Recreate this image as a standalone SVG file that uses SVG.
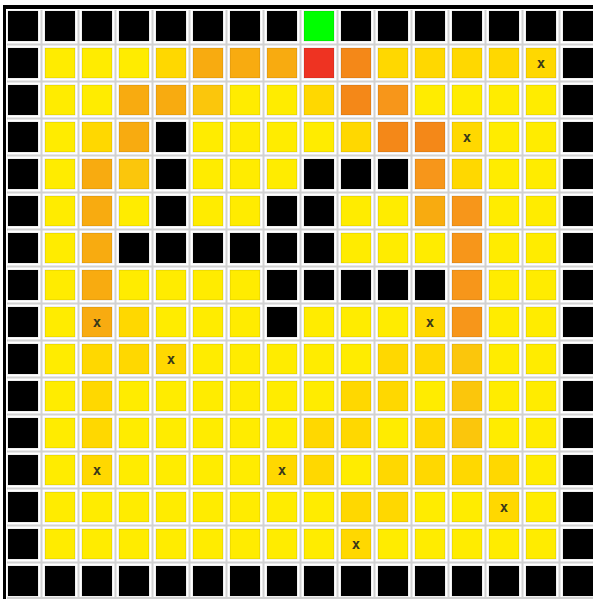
<svg xmlns="http://www.w3.org/2000/svg" width="593" height="599" viewBox="0 0 593 599">
<style>
rect{stroke:#000;stroke-opacity:.12;stroke-width:1;width:30px;height:30px}
.k{fill:#000}.y{fill:#FFEC00}.g{fill:#FFD800}.a{fill:#FBC60C}.o{fill:#F8AB10}.d{fill:#F48818}.p{fill:#F7961A}.r{fill:#EE3322}.l{fill:#00FF00}
.grid{stroke:#d2d2d2;stroke-width:2;fill:none}
.bar{fill:#000;stroke:none}
text{font-family:"DejaVu Sans Mono",monospace;font-size:14px;font-weight:bold;fill:#3a3a1a;text-anchor:middle;dominant-baseline:central}
</style>
<rect width="593" height="599" style="fill:#fff;stroke:none;width:593px;height:599px"/>
<g id="gridlines">
<path class="grid" d="M41.5 10V599M78.5 10V599M115.5 10V599M152.5 10V599M189.5 10V599M226.5 10V599M263.5 10V599M300.5 10V599M337.5 10V599M374.5 10V599M411.5 10V599M448.5 10V599M485.5 10V599M522.5 10V599M559.5 10V599M7 44.5H593M7 81.5H593M7 118.5H593M7 155.5H593M7 192.5H593M7 229.5H593M7 266.5H593M7 303.5H593M7 340.5H593M7 377.5H593M7 414.5H593M7 451.5H593M7 488.5H593M7 525.5H593M7 562.5H593M7 598H593"/>
</g>
<rect class="bar" x="3" y="5" style="width:590px;height:4px"/>
<rect class="bar" x="3" y="5" style="width:3px;height:594px"/>
<g id="row0" transform="translate(0,11)">
<rect class="k" x="8" y="0"/><rect class="k" x="45" y="0"/><rect class="k" x="82" y="0"/><rect class="k" x="119" y="0"/><rect class="k" x="156" y="0"/><rect class="k" x="193" y="0"/><rect class="k" x="230" y="0"/><rect class="k" x="267" y="0"/><rect class="l" x="304" y="0"/><rect class="k" x="341" y="0"/><rect class="k" x="378" y="0"/><rect class="k" x="415" y="0"/><rect class="k" x="452" y="0"/><rect class="k" x="489" y="0"/><rect class="k" x="526" y="0"/><rect class="k" x="563" y="0"/>
</g>
<g id="row1" transform="translate(0,48)">
<rect class="k" x="8" y="0"/><rect class="y" x="45" y="0"/><rect class="y" x="82" y="0"/><rect class="y" x="119" y="0"/><rect class="g" x="156" y="0"/><rect class="o" x="193" y="0"/><rect class="o" x="230" y="0"/><rect class="o" x="267" y="0"/><rect class="r" x="304" y="0"/><rect class="d" x="341" y="0"/><rect class="g" x="378" y="0"/><rect class="g" x="415" y="0"/><rect class="g" x="452" y="0"/><rect class="g" x="489" y="0"/><rect class="g" x="526" y="0"/><rect class="k" x="563" y="0"/>
<text x="541" y="15">x</text>
</g>
<g id="row2" transform="translate(0,85)">
<rect class="k" x="8" y="0"/><rect class="y" x="45" y="0"/><rect class="y" x="82" y="0"/><rect class="o" x="119" y="0"/><rect class="o" x="156" y="0"/><rect class="a" x="193" y="0"/><rect class="y" x="230" y="0"/><rect class="y" x="267" y="0"/><rect class="g" x="304" y="0"/><rect class="d" x="341" y="0"/><rect class="p" x="378" y="0"/><rect class="y" x="415" y="0"/><rect class="y" x="452" y="0"/><rect class="y" x="489" y="0"/><rect class="y" x="526" y="0"/><rect class="k" x="563" y="0"/>
</g>
<g id="row3" transform="translate(0,122)">
<rect class="k" x="8" y="0"/><rect class="y" x="45" y="0"/><rect class="g" x="82" y="0"/><rect class="o" x="119" y="0"/><rect class="k" x="156" y="0"/><rect class="y" x="193" y="0"/><rect class="y" x="230" y="0"/><rect class="y" x="267" y="0"/><rect class="y" x="304" y="0"/><rect class="g" x="341" y="0"/><rect class="d" x="378" y="0"/><rect class="d" x="415" y="0"/><rect class="g" x="452" y="0"/><rect class="y" x="489" y="0"/><rect class="y" x="526" y="0"/><rect class="k" x="563" y="0"/>
<text x="467" y="15">x</text>
</g>
<g id="row4" transform="translate(0,159)">
<rect class="k" x="8" y="0"/><rect class="y" x="45" y="0"/><rect class="o" x="82" y="0"/><rect class="a" x="119" y="0"/><rect class="k" x="156" y="0"/><rect class="y" x="193" y="0"/><rect class="y" x="230" y="0"/><rect class="y" x="267" y="0"/><rect class="k" x="304" y="0"/><rect class="k" x="341" y="0"/><rect class="k" x="378" y="0"/><rect class="p" x="415" y="0"/><rect class="g" x="452" y="0"/><rect class="y" x="489" y="0"/><rect class="y" x="526" y="0"/><rect class="k" x="563" y="0"/>
</g>
<g id="row5" transform="translate(0,196)">
<rect class="k" x="8" y="0"/><rect class="y" x="45" y="0"/><rect class="o" x="82" y="0"/><rect class="y" x="119" y="0"/><rect class="k" x="156" y="0"/><rect class="y" x="193" y="0"/><rect class="y" x="230" y="0"/><rect class="k" x="267" y="0"/><rect class="k" x="304" y="0"/><rect class="y" x="341" y="0"/><rect class="y" x="378" y="0"/><rect class="o" x="415" y="0"/><rect class="p" x="452" y="0"/><rect class="y" x="489" y="0"/><rect class="y" x="526" y="0"/><rect class="k" x="563" y="0"/>
</g>
<g id="row6" transform="translate(0,233)">
<rect class="k" x="8" y="0"/><rect class="y" x="45" y="0"/><rect class="o" x="82" y="0"/><rect class="k" x="119" y="0"/><rect class="k" x="156" y="0"/><rect class="k" x="193" y="0"/><rect class="k" x="230" y="0"/><rect class="k" x="267" y="0"/><rect class="k" x="304" y="0"/><rect class="y" x="341" y="0"/><rect class="y" x="378" y="0"/><rect class="y" x="415" y="0"/><rect class="p" x="452" y="0"/><rect class="y" x="489" y="0"/><rect class="y" x="526" y="0"/><rect class="k" x="563" y="0"/>
</g>
<g id="row7" transform="translate(0,270)">
<rect class="k" x="8" y="0"/><rect class="y" x="45" y="0"/><rect class="o" x="82" y="0"/><rect class="y" x="119" y="0"/><rect class="y" x="156" y="0"/><rect class="y" x="193" y="0"/><rect class="y" x="230" y="0"/><rect class="k" x="267" y="0"/><rect class="k" x="304" y="0"/><rect class="k" x="341" y="0"/><rect class="k" x="378" y="0"/><rect class="k" x="415" y="0"/><rect class="p" x="452" y="0"/><rect class="y" x="489" y="0"/><rect class="y" x="526" y="0"/><rect class="k" x="563" y="0"/>
</g>
<g id="row8" transform="translate(0,307)">
<rect class="k" x="8" y="0"/><rect class="y" x="45" y="0"/><rect class="o" x="82" y="0"/><rect class="g" x="119" y="0"/><rect class="y" x="156" y="0"/><rect class="y" x="193" y="0"/><rect class="y" x="230" y="0"/><rect class="k" x="267" y="0"/><rect class="y" x="304" y="0"/><rect class="y" x="341" y="0"/><rect class="y" x="378" y="0"/><rect class="g" x="415" y="0"/><rect class="p" x="452" y="0"/><rect class="y" x="489" y="0"/><rect class="y" x="526" y="0"/><rect class="k" x="563" y="0"/>
<text x="97" y="15">x</text><text x="430" y="15">x</text>
</g>
<g id="row9" transform="translate(0,344)">
<rect class="k" x="8" y="0"/><rect class="y" x="45" y="0"/><rect class="g" x="82" y="0"/><rect class="g" x="119" y="0"/><rect class="g" x="156" y="0"/><rect class="y" x="193" y="0"/><rect class="y" x="230" y="0"/><rect class="y" x="267" y="0"/><rect class="y" x="304" y="0"/><rect class="y" x="341" y="0"/><rect class="g" x="378" y="0"/><rect class="g" x="415" y="0"/><rect class="a" x="452" y="0"/><rect class="y" x="489" y="0"/><rect class="y" x="526" y="0"/><rect class="k" x="563" y="0"/>
<text x="171" y="15">x</text>
</g>
<g id="row10" transform="translate(0,381)">
<rect class="k" x="8" y="0"/><rect class="y" x="45" y="0"/><rect class="g" x="82" y="0"/><rect class="y" x="119" y="0"/><rect class="y" x="156" y="0"/><rect class="y" x="193" y="0"/><rect class="y" x="230" y="0"/><rect class="y" x="267" y="0"/><rect class="y" x="304" y="0"/><rect class="g" x="341" y="0"/><rect class="g" x="378" y="0"/><rect class="y" x="415" y="0"/><rect class="a" x="452" y="0"/><rect class="y" x="489" y="0"/><rect class="y" x="526" y="0"/><rect class="k" x="563" y="0"/>
</g>
<g id="row11" transform="translate(0,418)">
<rect class="k" x="8" y="0"/><rect class="y" x="45" y="0"/><rect class="g" x="82" y="0"/><rect class="y" x="119" y="0"/><rect class="y" x="156" y="0"/><rect class="y" x="193" y="0"/><rect class="y" x="230" y="0"/><rect class="y" x="267" y="0"/><rect class="g" x="304" y="0"/><rect class="g" x="341" y="0"/><rect class="y" x="378" y="0"/><rect class="g" x="415" y="0"/><rect class="a" x="452" y="0"/><rect class="y" x="489" y="0"/><rect class="y" x="526" y="0"/><rect class="k" x="563" y="0"/>
</g>
<g id="row12" transform="translate(0,455)">
<rect class="k" x="8" y="0"/><rect class="y" x="45" y="0"/><rect class="g" x="82" y="0"/><rect class="y" x="119" y="0"/><rect class="y" x="156" y="0"/><rect class="y" x="193" y="0"/><rect class="y" x="230" y="0"/><rect class="g" x="267" y="0"/><rect class="g" x="304" y="0"/><rect class="y" x="341" y="0"/><rect class="g" x="378" y="0"/><rect class="g" x="415" y="0"/><rect class="g" x="452" y="0"/><rect class="g" x="489" y="0"/><rect class="y" x="526" y="0"/><rect class="k" x="563" y="0"/>
<text x="97" y="15">x</text><text x="282" y="15">x</text>
</g>
<g id="row13" transform="translate(0,492)">
<rect class="k" x="8" y="0"/><rect class="y" x="45" y="0"/><rect class="y" x="82" y="0"/><rect class="y" x="119" y="0"/><rect class="y" x="156" y="0"/><rect class="y" x="193" y="0"/><rect class="y" x="230" y="0"/><rect class="y" x="267" y="0"/><rect class="y" x="304" y="0"/><rect class="g" x="341" y="0"/><rect class="g" x="378" y="0"/><rect class="y" x="415" y="0"/><rect class="y" x="452" y="0"/><rect class="g" x="489" y="0"/><rect class="y" x="526" y="0"/><rect class="k" x="563" y="0"/>
<text x="504" y="15">x</text>
</g>
<g id="row14" transform="translate(0,529)">
<rect class="k" x="8" y="0"/><rect class="y" x="45" y="0"/><rect class="y" x="82" y="0"/><rect class="y" x="119" y="0"/><rect class="y" x="156" y="0"/><rect class="y" x="193" y="0"/><rect class="y" x="230" y="0"/><rect class="y" x="267" y="0"/><rect class="y" x="304" y="0"/><rect class="g" x="341" y="0"/><rect class="y" x="378" y="0"/><rect class="y" x="415" y="0"/><rect class="y" x="452" y="0"/><rect class="y" x="489" y="0"/><rect class="y" x="526" y="0"/><rect class="k" x="563" y="0"/>
<text x="356" y="15">x</text>
</g>
<g id="row15" transform="translate(0,566)">
<rect class="k" x="8" y="0"/><rect class="k" x="45" y="0"/><rect class="k" x="82" y="0"/><rect class="k" x="119" y="0"/><rect class="k" x="156" y="0"/><rect class="k" x="193" y="0"/><rect class="k" x="230" y="0"/><rect class="k" x="267" y="0"/><rect class="k" x="304" y="0"/><rect class="k" x="341" y="0"/><rect class="k" x="378" y="0"/><rect class="k" x="415" y="0"/><rect class="k" x="452" y="0"/><rect class="k" x="489" y="0"/><rect class="k" x="526" y="0"/><rect class="k" x="563" y="0"/>
</g>
</svg>
